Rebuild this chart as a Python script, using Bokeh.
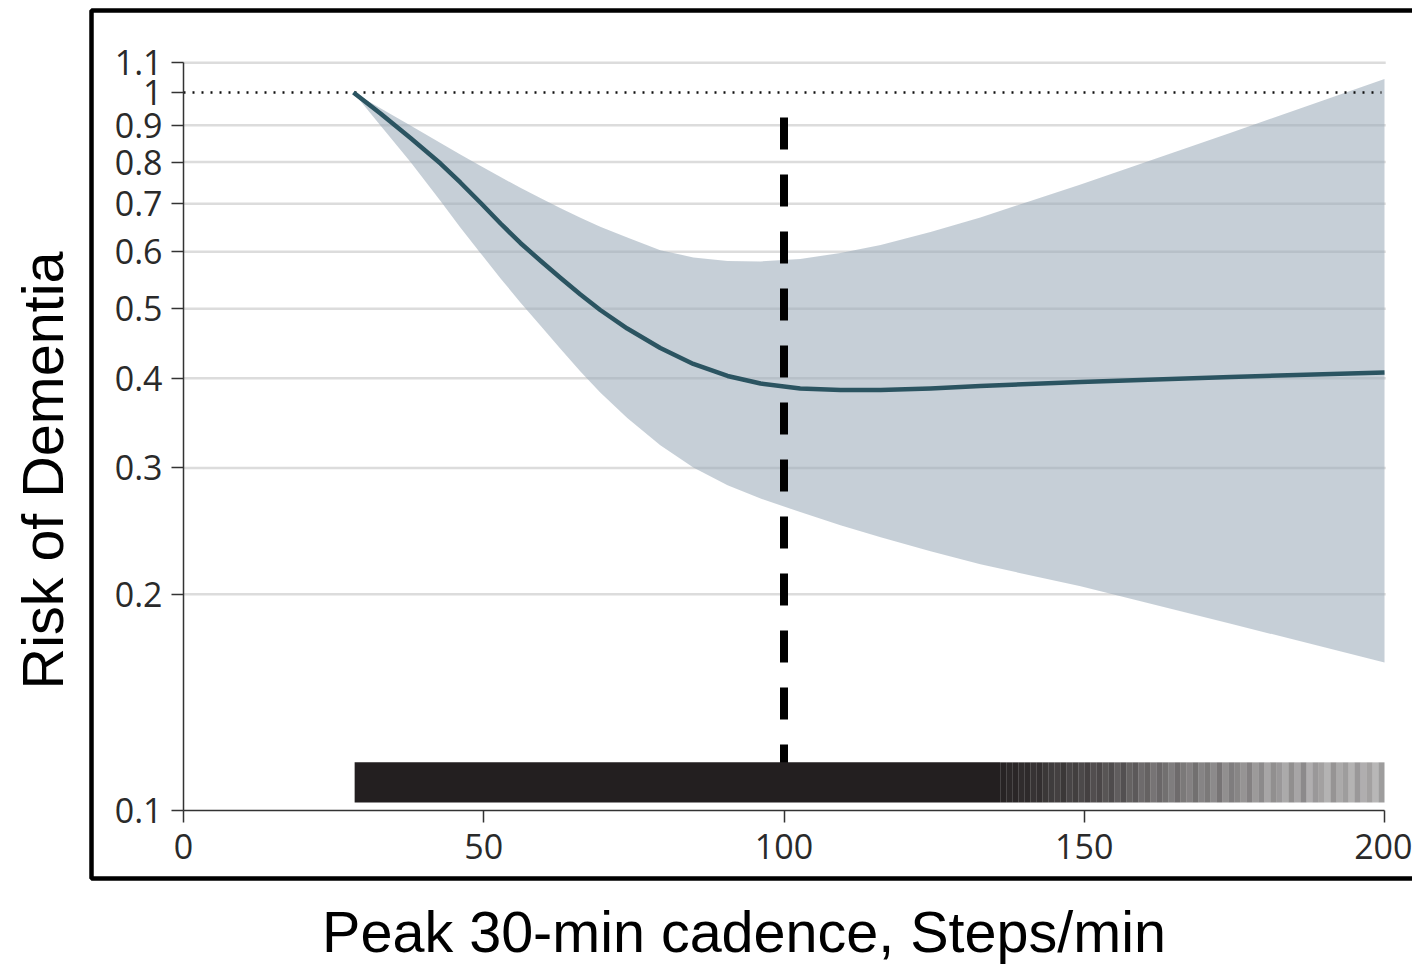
import math

from bokeh.embed import file_html
from bokeh.models import (BoxAnnotation, ColumnDataSource, CustomJSTickFormatter,
                          FixedTicker, Label, LinearAxis, LogAxis, Range1d)
from bokeh.plotting import figure
from bokeh.resources import INLINE

# Restricted cubic spline: risk of dementia vs. peak 30-min cadence (steps/min)
cadence = [28.3, 32.8, 37.8, 42.8, 46.1, 49.5, 52.8, 56.1, 59.5, 62.8, 66.1,
           69.4, 73.9, 79.4, 84.9, 90.6, 96.1, 102.7, 109.4, 116.1, 124.4,
           132.7, 149.4, 174.4, 200]
risk = [1.0, 0.9349, 0.8643, 0.7963, 0.7493, 0.7016, 0.6570, 0.6172, 0.5825,
        0.5516, 0.5232, 0.4978, 0.4691, 0.4407, 0.4187, 0.4029, 0.3933, 0.3870,
        0.3852, 0.3852, 0.3870, 0.3901, 0.3952, 0.4016, 0.4074]
risk_lower = [1.0, 0.8999, 0.8002, 0.7062, 0.6488, 0.5969, 0.5509, 0.5101,
              0.4729, 0.4393, 0.4088, 0.3822, 0.3520, 0.3227, 0.3003, 0.2837,
              0.2720, 0.2604, 0.2496, 0.2402, 0.2296, 0.2202, 0.2052, 0.1820,
              0.1608]
risk_upper = [1.0, 0.9509, 0.8993, 0.8505, 0.8197, 0.7902, 0.7626, 0.7367,
              0.7125, 0.6900, 0.6691, 0.6501, 0.6279, 0.6032, 0.5893, 0.5823,
              0.5818, 0.5863, 0.5977, 0.6132, 0.6393, 0.6698, 0.7445, 0.8788,
              1.0446]

reference_risk = 1.0
optimal_cadence = 100

# Rug of observed cadences: solid block where data are dense, 1-step bins in the tail
rug_dense_start = 28.5
rug_dense_end = 136
rug_bin_start = 136
rug_bin_alpha = [
    0.98, 0.96, 0.97, 0.94, 0.95, 0.91, 0.93, 0.89,
    0.87, 0.85, 0.89, 0.83, 0.86, 0.81, 0.85, 0.79,
    0.82, 0.76, 0.80, 0.72, 0.78, 0.70, 0.74, 0.66,
    0.70, 0.62, 0.68, 0.64, 0.58, 0.66, 0.60, 0.56,
    0.64, 0.55, 0.60, 0.52, 0.62, 0.50, 0.58, 0.54,
    0.48, 0.56, 0.45, 0.52, 0.40, 0.50, 0.46, 0.38,
    0.50, 0.40, 0.52, 0.36, 0.46, 0.42, 0.34, 0.48,
    0.38, 0.44, 0.34, 0.46, 0.36, 0.42, 0.32, 0.44,
]

x_ticks = [0, 50, 100, 150, 200]
y_ticks = [0.1, 0.2, 0.3, 0.4, 0.5, 0.6, 0.7, 0.8, 0.9, 1.0, 1.1]
y_grid = [0.2, 0.3, 0.4, 0.5, 0.6, 0.7, 0.8, 0.9, 1.1]

# Canvas geometry: 0 steps/min sits 183 px from the left, 6.005 px per step;
# risk 0.1 sits 810 px from the top, 718 px per decade.
W, H = 1412, 969


def x_at(px):
    return (px - 183) / 6.005


def y_at(py):
    return 10 ** ((810 - py) / 718 - 1)


p = figure(width=W, height=H, x_range=Range1d(x_at(0), x_at(W)),
           y_range=Range1d(y_at(H), y_at(0)), y_axis_type="log",
           x_axis_location=None, y_axis_location=None,
           toolbar_location=None, output_backend="svg", min_border=0,
           outline_line_color=None, background_fill_color="white",
           border_fill_color="white")
p.grid.visible = False

# horizontal guide lines
grid_src = ColumnDataSource(dict(y=y_grid, x0=[x_ticks[0]] * len(y_grid),
                                 x1=[x_ticks[-1] + 0.2] * len(y_grid)))
p.segment(x0="x0", x1="x1", y0="y", y1="y", source=grid_src,
          line_color="#dcdcdc", line_width=2.5)

# confidence band and estimate
p.varea(x=cadence, y1=risk_lower, y2=risk_upper, fill_color="#9aabb8",
        fill_alpha=0.57)
p.segment(x0=x_ticks[0], x1=cadence[-1] - 0.5, y0=reference_risk,
          y1=reference_risk, line_color="#111111", line_width=2.5, line_dash="2 7")
p.line(cadence, risk, line_color="#2b5461", line_width=4.5, line_join="round")

dash_top, dash_bottom = 0.923, 0.1144
p.segment(x0=optimal_cadence, x1=optimal_cadence, y0=dash_top, y1=dash_bottom,
          line_color="black", line_width=8, line_dash="32 25")

# rug
rug_bottom, rug_top = 0.1026, 0.1167
p.quad(left=rug_dense_start, right=rug_dense_end, bottom=rug_bottom,
       top=rug_top, fill_color="#231f20", line_color=None)
bin_left = [rug_bin_start + i for i in range(len(rug_bin_alpha))]
rug_src = ColumnDataSource(dict(left=bin_left, right=[b + 1 for b in bin_left],
                                alpha=rug_bin_alpha))
p.quad(left="left", right="right", bottom=rug_bottom, top=rug_top,
       source=rug_src, fill_color="#231f20", fill_alpha="alpha", line_color=None)

# axes drawn inside the canvas at the data origin
axis_style = dict(axis_line_color="#333333", axis_line_width=1.5,
                  major_tick_line_color="#333333", major_tick_line_width=1.5,
                  major_tick_in=0, major_tick_out=12,
                  minor_tick_line_color=None,
                  major_label_text_font="Open Sans",
                  major_label_text_font_size="34px",
                  major_label_text_color="#2a2a2a")
xaxis = LinearAxis(fixed_location=0.1, bounds=(0, 200),
                   ticker=FixedTicker(ticks=x_ticks), major_label_standoff=11,
                   **axis_style)
p.add_layout(xaxis, "below")
yaxis = LogAxis(fixed_location=0, bounds=(0.1, 1.1),
                ticker=FixedTicker(ticks=y_ticks),
                formatter=CustomJSTickFormatter(
                    code="return String(Math.round(tick * 10) / 10);"),
                major_label_standoff=9, **axis_style)
p.add_layout(yaxis, "left")

# frame around the panel (open on the right)
p.add_layout(BoxAnnotation(left=x_at(91), right=x_at(W + 60), top=y_at(10),
                           bottom=y_at(878), fill_color=None, fill_alpha=0,
                           line_color="black", line_alpha=1, line_width=4.5))

title_font = "Liberation Sans"
p.add_layout(Label(x=x_at(743.5), y=y_at(931),
                   text="Peak 30-min cadence, Steps/min", text_align="center",
                   text_baseline="middle", text_font=title_font,
                   text_font_size="57.5px", text_color="black"))
p.add_layout(Label(x=x_at(42), y=y_at(470), angle=math.pi / 2,
                   text="Risk of Dementia", text_align="center",
                   text_baseline="middle", text_font=title_font,
                   text_font_size="57.5px", text_color="black"))

open("out.html", "w").write(file_html(p, INLINE))
